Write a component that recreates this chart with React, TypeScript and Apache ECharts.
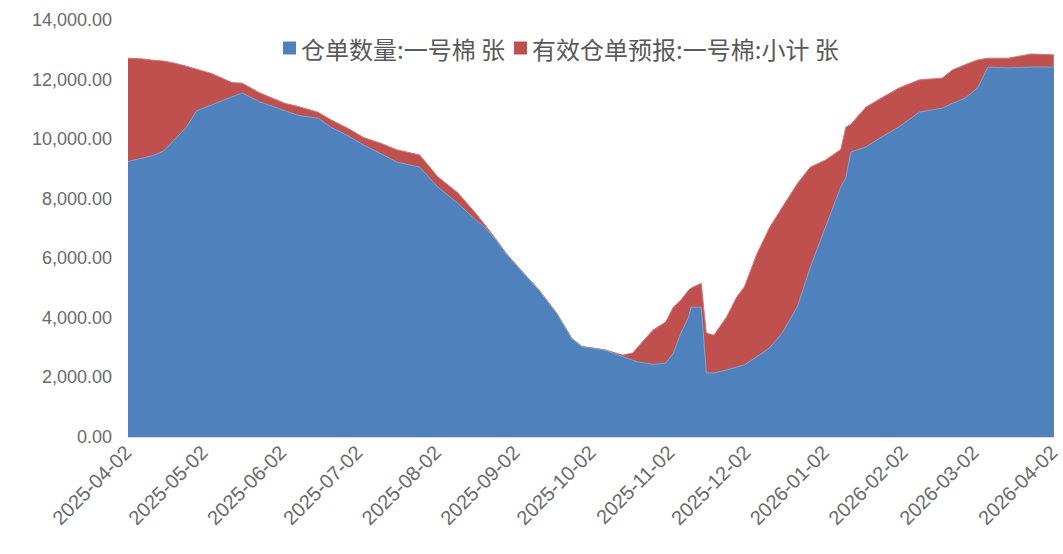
import React, { useEffect, useRef } from 'react';
import * as echarts from 'echarts';

// Trading dates (sampled from the chart)
const dates: string[] = [
  '2025-04-02', '2025-04-07', '2025-04-12', '2025-04-16', '2025-04-20', '2025-04-25', '2025-04-29',
  '2025-05-05', '2025-05-13', '2025-05-17', '2025-05-24', '2025-06-03', '2025-06-08', '2025-06-16',
  '2025-06-21', '2025-06-28', '2025-07-04', '2025-07-11', '2025-07-17', '2025-07-26', '2025-08-02',
  '2025-08-10', '2025-08-17', '2025-08-20', '2025-08-25', '2025-08-29', '2025-09-05', '2025-09-11',
  '2025-09-18', '2025-09-24', '2025-09-28', '2025-10-07', '2025-10-14', '2025-10-18', '2025-10-20',
  '2025-10-26', '2025-10-31', '2025-11-03', '2025-11-06', '2025-11-09', '2025-11-10', '2025-11-14',
  '2025-11-16', '2025-11-19', '2025-11-24', '2025-11-28', '2025-12-01', '2025-12-06', '2025-12-11',
  '2025-12-16', '2025-12-22', '2025-12-27', '2026-01-02', '2026-01-08', '2026-01-10', '2026-01-12',
  '2026-01-18', '2026-01-24', '2026-01-31', '2026-02-08', '2026-02-17', '2026-02-21', '2026-02-26',
  '2026-03-03', '2026-03-07', '2026-03-15', '2026-03-24', '2026-04-02',
];

// 仓单数量:一号棉 (张)
const warehouseReceipts: number[] = [
  9250, 9350, 9450, 9600, 9950, 10400, 10950,
  11150, 11420, 11550, 11250, 10950, 10800, 10700,
  10400, 10100, 9800, 9500, 9230, 9060, 8400,
  7850, 7290, 7100, 6620, 6160, 5490, 4930,
  4150, 3300, 3030, 2920, 2700, 2580, 2520,
  2440, 2480, 2820, 3490, 4030, 4360, 4360,
  2150, 2150, 2250, 2350, 2420, 2700, 3000,
  3500, 4400, 5700, 7050, 8390, 8700, 9570,
  9740, 10070, 10410, 10910, 11040, 11200, 11380,
  11720, 12420, 12390, 12420, 12420,
];

// 有效仓单预报:一号棉:小计 (张)
const forecastReceipts: number[] = [
  3470, 3350, 3200, 3020, 2610, 2050, 1400,
  1050, 480, 330, 300, 250, 300, 200,
  250, 250, 250, 350, 410, 410, 350,
  350, 230, 100, 30, 20, 10, 10,
  10, 10, 10, 10, 50, 240, 500,
  1150, 1380, 1540, 1110, 900, 640, 800,
  1340, 1270, 1780, 2350, 2620, 3460, 4040,
  4220, 4120, 3360, 2250, 1260, 1700, 930,
  1340, 1310, 1310, 1080, 1010, 1120, 1120,
  940, 300, 330, 440, 410,
];

const xTickLabels: string[] = [
  '2025-04-02', '2025-05-02', '2025-06-02', '2025-07-02', '2025-08-02', '2025-09-02',
  '2025-10-02', '2025-11-02', '2025-12-02', '2026-01-02', '2026-02-02', '2026-03-02', '2026-04-02',
];

const seriesNames = ['仓单数量:一号棉 张', '有效仓单预报:一号棉:小计 张'];

const ts = (s: string) => +echarts.time.parse(s);

export default function App() {
  const ref = useRef<HTMLDivElement>(null);
  useEffect(() => {
    document.body.style.margin = '0';
    const chart = echarts.init(ref.current as HTMLDivElement, null, { renderer: 'svg' });
    const tickTs = xTickLabels.map(ts);
    // stacked: the forecast layer sits on top of the receipts layer
    const stackedTop = dates.map((d, i) => [ts(d), warehouseReceipts[i] + forecastReceipts[i]]);
    const bottom = dates.map((d, i) => [ts(d), warehouseReceipts[i]]);
    chart.setOption({
      animation: false,
      backgroundColor: '#ffffff',
      textStyle: { fontFamily: '"Liberation Sans", "Noto Sans CJK SC", sans-serif' },
      legend: {
        left: 278,
        top: 31,
        icon: 'rect',
        itemWidth: 13,
        itemHeight: 13,
        itemGap: 9,
        textStyle: { fontSize: 24, color: '#595959', fontFamily: '"Noto Sans CJK SC", sans-serif' },
        data: seriesNames,
      },
      grid: { left: 128, right: 0, top: 20, bottom: 117 },
      xAxis: {
        type: 'value',
        min: tickTs[0],
        max: tickTs[tickTs.length - 1],
        splitLine: { show: false },
        axisTick: { show: false },
        axisLine: { show: true, lineStyle: { color: '#d9d9d9', width: 1 } },
        axisLabel: {
          customValues: tickTs,
          rotate: 45,
          margin: 12,
          fontSize: 20,
          color: '#6a6a6a',
          formatter: (v: number) => echarts.time.format(v, '{yyyy}-{MM}-{dd}', false),
        },
      },
      yAxis: {
        type: 'value',
        min: 0,
        max: 14000,
        interval: 2000,
        splitLine: { show: false },
        axisLine: { show: false },
        axisTick: { show: false },
        axisLabel: {
          margin: 16,
          fontSize: 18,
          color: '#6a6a6a',
          formatter: (v: number) =>
            v.toLocaleString('en-US', { minimumFractionDigits: 2, maximumFractionDigits: 2 }),
        },
      },
      series: [
        {
          name: seriesNames[1],
          type: 'line',
          symbol: 'none',
          color: '#C0504D',
          lineStyle: { width: 1, color: '#d07875' },
          areaStyle: { color: '#C0504D', opacity: 1 },
          data: stackedTop,
        },
        {
          name: seriesNames[0],
          type: 'line',
          symbol: 'none',
          color: '#4F81BD',
          lineStyle: { width: 1, color: '#7ea3d2' },
          areaStyle: { color: '#4F81BD', opacity: 1 },
          data: bottom,
        },
      ],
    });
    return () => chart.dispose();
  }, []);
  return <div ref={ref} style={{ width: 1063, height: 554 }} />;
}
